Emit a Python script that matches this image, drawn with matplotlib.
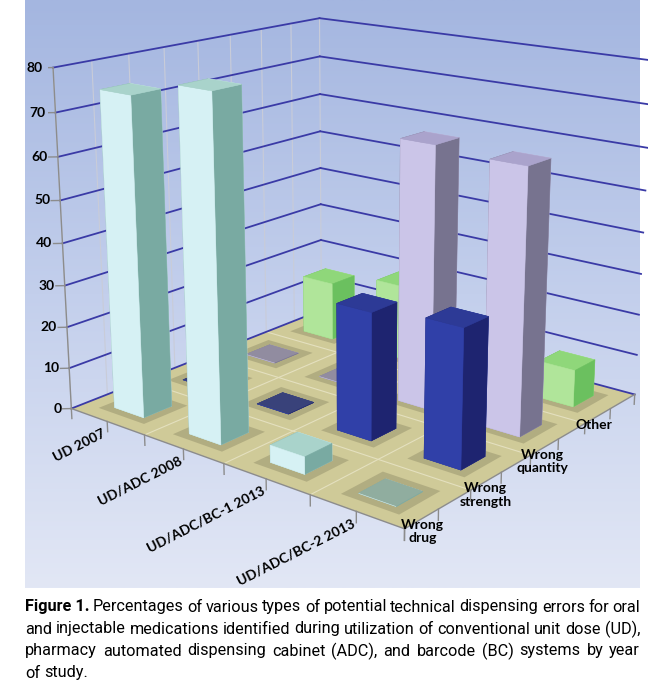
import matplotlib.pyplot as plt
import numpy as np
from matplotlib import font_manager
from matplotlib.colors import LinearSegmentedColormap, to_rgb
from mpl_toolkits.mplot3d import proj3d
from mpl_toolkits.mplot3d.art3d import Poly3DCollection

years = ['UD 2007', 'UD/ADC 2008', 'UD/ADC/BC-1 2013', 'UD/ADC/BC-2 2013']
errors = ['Wrong\ndrug', 'Wrong\nstrength', 'Wrong\nquantity', 'Other']
wrong_drug = [75, 79, 4, 0]
wrong_strength = [0, 0, 30, 32]
wrong_quantity = [0, 0, 63, 62]
other = [15, 19, 11, 9]
zticks = list(range(0, 90, 10))

# (top, front, side) colours for each series
series_colors = [
    ('#a9d3cb', '#d6f1f4', '#79aaa2'),
    ('#2d3a96', '#3040a8', '#1e2470'),
    ('#aaa3cc', '#cbc5e8', '#77738f'),
    ('#8fd77a', '#b0e59a', '#6bc05f'),
]

cap_lines = [
    "Percentages of various types of potential technical dispensing errors for oral",
    "and injectable medications identified during utilization of conventional unit dose (UD),",
    "pharmacy automated dispensing cabinet (ADC), and barcode (BC) systems by year",
    "of study.",
]

W, H = 659, 698
fig = plt.figure(figsize=(W / 100, H / 100), dpi=100)
fig.patch.set_facecolor('white')

# blue gradient box behind the chart
bg = fig.add_axes([25 / W, 1 - 588 / H, 615 / W, 588 / H])
cmap = LinearSegmentedColormap.from_list('bg', ['#a4b6e0', '#c3cfec', '#e2e7f5'])
bg.imshow(np.linspace(0, 1, 256).reshape(-1, 1), aspect='auto', cmap=cmap, extent=[0, 1, 0, 1])
bg.axis('off')

side = 600
cx, cy = 348, 246
ax = fig.add_axes([(cx - side / 2) / W, 1 - (cy + side / 2) / H, side / W, side / H], projection='3d')
ax.set_proj_type('persp', focal_length=0.5)
ax.view_init(elev=16.5, azim=-51)
ax.set_box_aspect((1.13, 1.045, 0.93), zoom=1.1)
ax.set_axis_off()
ax.patch.set_alpha(0)
ax.computed_zorder = False
ax.set_xlim(-0.5, 3.5)
ax.set_ylim(-0.5, 3.5)
ax.set_zlim(0, 80)

# floor
floor = Poly3DCollection([[(-0.5, -0.5, 0), (3.5, -0.5, 0), (3.5, 3.5, 0), (-0.5, 3.5, 0)]],
                         facecolor='#cfca98', edgecolor='none', zorder=1)
ax.add_collection3d(floor)
for k in [0.5, 1.5, 2.5]:
    ax.plot([-0.5, 3.5], [k, k], [0, 0], color='#e4e0bf', lw=0.8, zorder=2)
    ax.plot([k, k], [-0.5, 3.5], [0, 0], color='#e4e0bf', lw=0.8, zorder=2)

# walls: gridlines
for z in zticks:
    ax.plot([-0.5, -0.5], [-0.5, 3.5], [z, z], color='#3a3aa6', lw=1.3, zorder=2)
    ax.plot([-0.5, 3.5], [3.5, 3.5], [z, z], color='#3a3aa6', lw=1.3, zorder=2)
for k in np.arange(-0.5, 3.6, 0.5):
    ax.plot([-0.5, -0.5], [k, k], [0, 80], color='#c9ccd8', lw=0.8, zorder=1.5)

# vertical axis and floor edges with ticks
ax.plot([-0.5, -0.5], [-0.5, -0.5], [0, 80], color='#8c8c8c', lw=1, zorder=2)
for z in zticks:
    ax.plot([-0.5, -0.56], [-0.5, -0.56], [z, z], color='#8c8c8c', lw=1, zorder=2)
ax.plot([-0.5, 3.5], [-0.5, -0.5], [0, 0], color='#8c8c8c', lw=1, zorder=2)
ax.plot([3.5, 3.5], [-0.5, 3.5], [0, 0], color='#8c8c8c', lw=1, zorder=2)
for k in np.arange(-0.5, 3.6, 0.5):
    ax.plot([k, k], [-0.5, -0.5], [0, -2.5], color='#8c8c8c', lw=1, zorder=2)
    ax.plot([3.5, 3.5], [k, k], [0, -2.5], color='#8c8c8c', lw=1, zorder=2)

# bars
values = [wrong_drug, wrong_strength, wrong_quantity, other]
bw = 0.40
xs, ys, dz, cols, shadows = [], [], [], [], []
for j, series in enumerate(values):
    for i, v in enumerate(series):
        top, front, sidec = series_colors[j]
        xs.append(i - bw / 2)
        ys.append(j - bw / 2)
        dz.append(v)
        if v == 0:
            top = tuple(0.7 * c + 0.3 * d for c, d in zip(to_rgb(top), to_rgb('#55553a')))
        cols += [top, top, front, front, sidec, sidec]
        s = 0.31
        shadows.append([(i - s, j - s, 0), (i + s, j - s, 0), (i + s, j + s, 0), (i - s, j + s, 0)])

ax.add_collection3d(Poly3DCollection(shadows, facecolor='#8e8a66', edgecolor='none',
                                     alpha=0.45, zorder=3))
ax.bar3d(xs, ys, np.zeros(len(xs)), bw, bw, dz, color=cols, edgecolors=cols,
         linewidths=0.4, shade=False, zorder=5)

fig.canvas.draw()
r = fig.canvas.get_renderer()


def to_px(x, y, z):
    px, py, _ = proj3d.proj_transform(x, y, z, ax.get_proj())
    return ax.transData.transform((px, py))


lab = dict(fontsize=10, fontweight='bold', family='Lato')
for z in zticks:
    px, py = to_px(-0.5, -0.5, z)
    fig.text((px - 10) / W, py / H, str(z), ha='right', va='center', **lab)
for i, name in enumerate(years):
    px, py = to_px(i, -0.5, 0)
    fig.text((px - 5) / W, (py - 6) / H, name, ha='right', va='top', rotation=27,
             rotation_mode='anchor', **lab)
for j, name in enumerate(errors):
    px, py = to_px(3.5, j, 0)
    fig.text((px - 16) / W, (py - 10) / H, name, ha='center', va='top', linespacing=1.15,
             multialignment='center', **lab)

# caption, justified by hand
names = {f.name for f in font_manager.fontManager.ttflist}
cap_family = 'Liberation Sans Narrow' if 'Liberation Sans Narrow' in names else 'Roboto'
x_left, x_right = 25, 640
line_y = [607, 629, 651, 673]
cap_size = 11.5
if cap_family == 'Roboto':
    t = fig.text(0, 0, cap_lines[1], fontsize=12, family=cap_family)
    cap_size = 12 * 612 / t.get_window_extent(r).width
    t.remove()
for n, line in enumerate(cap_lines):
    items = [(w, 'normal') for w in line.split()]
    if n == 0:
        items.insert(0, ('Figure 1.', 'bold'))
    arts, widths = [], []
    for w, fw in items:
        t = fig.text(0.5, 0.5, w, fontweight=fw, va='center', ha='left',
                     fontsize=cap_size, family=cap_family)
        widths.append(t.get_window_extent(r).width)
        arts.append(t)
    gap = (x_right - x_left - sum(widths)) / (len(items) - 1) if n < 3 else 4
    x = x_left
    for t, wd in zip(arts, widths):
        t.set_position((x / W, 1 - line_y[n] / H))
        x += wd + gap

fig.savefig('out.png', dpi=100)
